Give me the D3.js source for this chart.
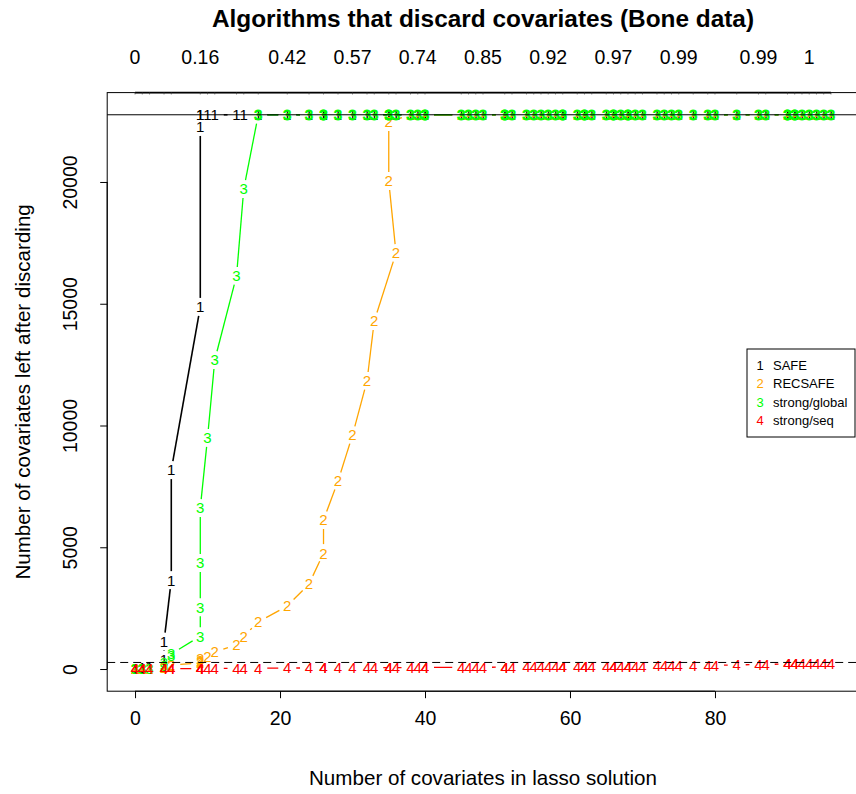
<!DOCTYPE html>
<html><head><meta charset="utf-8">
<script src="https://cdn.jsdelivr.net/npm/d3@7"></script>
<style>
body{margin:0;background:#fff}
svg{display:block}
text{font-family:"Liberation Sans",Arial,Helvetica,sans-serif}
</style>
</head><body>
<svg id="c" width="856" height="794"></svg>
<script>
// ---- data ----
const nCovInLasso = [0,0,1,1,2,4,4,5,5,9,9,9,9,10,11,14,15,17,21,24,26,26,28,30,32,33,36,35,35,
  38,39,40,40,45,46,47,48,51,51,52,54,55,56,57,58,59,59,61,62,62,63,65,66,66,67,68,68,69,70,
  72,73,74,75,77,79,80,83,86,87,90,90,91,91,92,93,94,95,96];
const safe = [10,15,30,45,90,370,1130,3650,8170,14870,22260,22760,22760,22760,22760,22760,22760,22760,22760,22760,22760,22760,22760,22760,22760,22760,22760,22760,22760,
  22760,22760,22760,22760,22760,22760,22760,22760,22760,22760,22760,22760,22760,22760,22760,22760,22760,22760,22760,22760,22760,22760,22760,22760,22760,22760,22760,22760,22760,22760,
  22760,22760,22760,22760,22760,22760,22760,22760,22760,22760,22760,22760,22760,22760,22760,22760,22760,22760,22760];
const recsafe = [5,8,15,20,35,60,90,130,170,250,300,350,420,530,700,990,1350,1930,2590,3490,4760,6120,7720,9610,11830,14290,17080,20040,22460,
  22760,22760,22760,22760,22760,22760,22760,22760,22760,22760,22760,22760,22760,22760,22760,22760,22760,22760,22760,22760,22760,22760,22760,22760,22760,22760,22760,22760,22760,22760,
  22760,22760,22760,22760,22760,22760,22760,22760,22760,22760,22760,22760,22760,22760,22760,22760,22760,22760,22760];
const strongGlobal = [5,8,12,18,30,150,280,560,620,1350,2540,4350,6610,9490,12690,16140,19710,22760,22760,22760,22760,22760,22760,22760,22760,22760,22760,22760,22760,
  22760,22760,22760,22760,22760,22760,22760,22760,22760,22760,22760,22760,22760,22760,22760,22760,22760,22760,22760,22760,22760,22760,22760,22760,22760,22760,22760,22760,22760,22760,
  22760,22760,22760,22760,22760,22760,22760,22760,22760,22760,22760,22760,22760,22760,22760,22760,22760,22760,22760];
const strongSeq = [3,3,5,5,7,10,11,12,13,20,21,22,22,24,26,31,33,37,40,44,46,47,49,51,53,54,58,57,57,
  60,61,63,63,68,70,71,72,76,76,78,80,82,84,86,88,90,90,93,96,96,98,102,104,104,107,110,110,113,116,
  124,128,132,136,144,152,156,170,186,190,205,208,212,214,218,222,226,230,234];
const seriesNames = ["SAFE","RECSAFE","strong/global","strong/seq"];
const seriesSymbols = ["1","2","3","4"];
const seriesColors = ["#000000","#FFA500","#00FF00","#FF0000"];
const totalCovariates = 22760;   // solid horizontal line
const nSamples = 270;            // dashed horizontal line
const xTicks = [0,20,40,60,80];
const yTicks = [0,5000,10000,15000,20000];
const topLabelX = [0,9,21,30,39,48,57,66,75,86,93];
const topLabels = ["0","0.16","0.42","0.57","0.74","0.85","0.92","0.97","0.99","0.99","1"];
const title = "Algorithms that discard covariates (Bone data)";
const xTitle = "Number of covariates in lasso solution";
const yTitle = "Number of covariates left after discarding";

// ---- layout ----
const svg = d3.select("#c");
const L = 107.2, R = 858.8, T = 92.6, B = 691.2;
const FF = "Liberation Sans, Arial, sans-serif";
const xMax = d3.max(nCovInLasso), xMin = 0;
const xr = xMax - xMin;
const x = d3.scaleLinear().domain([xMin - 0.04*xr, xMax + 0.04*xr]).range([L, R]);
const yr = totalCovariates;
const y = d3.scaleLinear().domain([-0.04*yr, yr*1.04]).range([B, T]);

// series (type = "b": symbols with gapped segments)
const allSeries = [safe, recsafe, strongGlobal, strongSeq];
const gap = 9;
allSeries.forEach((vals, si) => {
  const g = svg.append("g");
  const pts = vals.map((v, i) => [x(nCovInLasso[i]), y(v)]);
  for (let i = 0; i < pts.length - 1; i++) {
    const [x0, y0] = pts[i], [x1, y1] = pts[i+1];
    const dx = x1 - x0, dy = y1 - y0, f = Math.hypot(dx, dy);
    if (f > 2*gap) {
      const ux = dx / f * gap, uy = dy / f * gap;
      g.append("line").attr("x1", x0 + ux).attr("y1", y0 + uy).attr("x2", x1 - ux).attr("y2", y1 - uy)
        .attr("stroke", seriesColors[si]).attr("stroke-width", si === 0 ? 1.6 : 1.3);
    }
  }
  g.selectAll("text.pt").data(vals).join("text").attr("class", "pt")
    .attr("x", (d, i) => x(nCovInLasso[i])).attr("y", d => y(d))
    .attr("dy", "0.36em").attr("text-anchor", "middle")
    .attr("font-size", 15).attr("fill", seriesColors[si])
    // overprinted green symbols along the ceiling look heavier in the reference
    .attr("stroke", d => (si === 2 && d === totalCovariates) ? seriesColors[si] : "none")
    .attr("stroke-width", 0.9)
    .text(seriesSymbols[si]);
});

// reference lines (drawn over the symbols)
svg.append("line").attr("x1", L).attr("x2", R).attr("y1", y(totalCovariates)).attr("y2", y(totalCovariates))
  .attr("stroke", "#000").attr("stroke-width", 1);
svg.append("line").attr("x1", L).attr("x2", R).attr("y1", y(nSamples)).attr("y2", y(nSamples))
  .attr("stroke", "#000").attr("stroke-width", 1).attr("stroke-dasharray", "8,5");

// box
svg.append("rect").attr("x", L).attr("y", T).attr("width", R - L).attr("height", B - T)
  .attr("fill", "none").attr("stroke", "#000").attr("stroke-width", 1);

// bottom axis
const xAxis = d3.axisBottom(x).tickValues(xTicks).tickSize(7).tickFormat(d3.format("d"));
const gx = svg.append("g").attr("transform", `translate(0,${B})`).call(xAxis);
gx.select(".domain").attr("d", `M${x(xTicks[0])},0H${x(xTicks[xTicks.length-1])}`);
gx.selectAll(".tick text").attr("y", 34).attr("dy", null)
  .attr("font-size", 19.5).attr("font-family", FF).attr("fill", "#000");
gx.selectAll("line").attr("stroke", "#000");

// left axis
const yAxis = d3.axisLeft(y).tickValues(yTicks).tickSize(7).tickFormat(d3.format("d"));
const gy = svg.append("g").attr("transform", `translate(${L},0)`).call(yAxis);
gy.select(".domain").attr("d", `M0,${y(yTicks[0])}V${y(yTicks[yTicks.length-1])}`);
gy.selectAll("line").attr("stroke", "#000");
gy.selectAll(".tick text").attr("x", null).attr("dy", null)
  .attr("transform", "translate(-30,0) rotate(-90)")
  .attr("text-anchor", "middle")
  .attr("font-size", 19.5).attr("font-family", FF).attr("fill", "#000");

// top axis (ticks at every point, labels at selected ones)
const uniqX = Array.from(new Set(nCovInLasso));
const gt = svg.append("g");
gt.append("line").attr("x1", x(d3.min(uniqX))).attr("x2", x(d3.max(uniqX))).attr("y1", T).attr("y2", T)
  .attr("stroke", "#000").attr("stroke-width", 1.8);
gt.selectAll("line.tk").data(uniqX).join("line").attr("class", "tk")
  .attr("x1", d => x(d)).attr("x2", d => x(d)).attr("y1", T).attr("y2", T + 1.8)
  .attr("stroke", "#444").attr("stroke-width", 0.8);
gt.selectAll("text").data(topLabels).join("text")
  .attr("x", (d, i) => x(topLabelX[i])).attr("y", 64).attr("text-anchor", "middle")
  .attr("font-size", 19.5).text(d => d);

// titles
svg.append("text").attr("x", (L + R) / 2).attr("y", 27).attr("text-anchor", "middle")
  .attr("font-size", 24.4).attr("font-weight", "bold").text(title);
svg.append("text").attr("x", (L + R) / 2).attr("y", 785).attr("text-anchor", "middle")
  .attr("font-size", 20.6).text(xTitle);
svg.append("text").attr("transform", `translate(29.5,${(T + B) / 2}) rotate(-90)`).attr("text-anchor", "middle")
  .attr("font-size", 20.6).text(yTitle);

// legend
const lg = svg.append("g");
lg.append("rect").attr("x", 747).attr("y", 349).attr("width", 108).attr("height", 88)
  .attr("fill", "#fff").attr("stroke", "#000").attr("stroke-width", 1);
seriesNames.forEach((n, i) => {
  const cy = 365.5 + i * 18.3;
  lg.append("text").attr("x", 760).attr("y", cy).attr("dy", "0.36em").attr("text-anchor", "middle")
    .attr("font-size", 13).attr("fill", seriesColors[i]).text(seriesSymbols[i]);
  lg.append("text").attr("x", 773).attr("y", cy).attr("dy", "0.36em")
    .attr("font-size", 13).attr("fill", "#000").text(n);
});
</script>
</body></html>
